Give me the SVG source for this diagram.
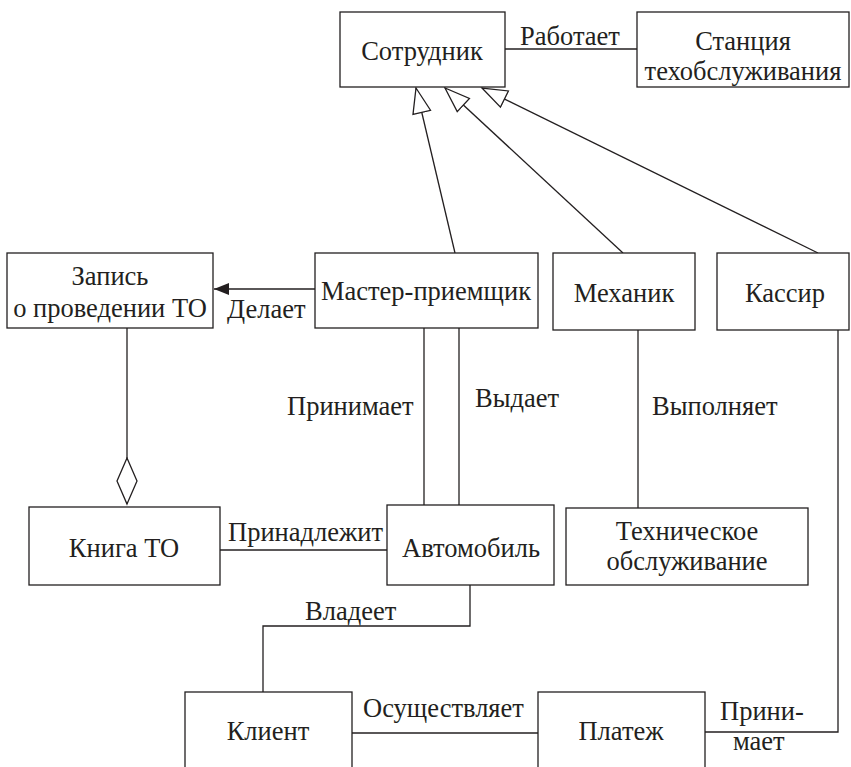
<svg xmlns="http://www.w3.org/2000/svg" width="851" height="767" viewBox="0 0 851 767">
<style>
rect{fill:#fff;stroke:#231f20;stroke-width:1.3}
.c{fill:none;stroke:#231f20;stroke-width:1.3}
text{font-family:'Liberation Serif','Times New Roman',serif;font-size:26.5px;fill:#231f20}
.m{text-anchor:middle}
</style>
<defs>
<marker id="gen" markerUnits="userSpaceOnUse" markerWidth="30" markerHeight="24" refX="26" refY="10" orient="auto" viewBox="0 0 30 20">
<path d="M26,10 L1,1 L1,19 Z" fill="#fff" stroke="#231f20" stroke-width="1.3"/>
</marker>
<marker id="arr" markerUnits="userSpaceOnUse" markerWidth="18" markerHeight="14" refX="16" refY="7" orient="auto" viewBox="0 0 18 14">
<path d="M16,7 L1,1 L1,13 Z" fill="#231f20"/>
</marker>
<marker id="agg" markerUnits="userSpaceOnUse" markerWidth="50" markerHeight="24" refX="47" refY="11" orient="auto" viewBox="0 0 50 22">
<path d="M47,11 L24,1 L1,11 L24,21 Z" fill="#fff" stroke="#231f20" stroke-width="1.3"/>
</marker>
</defs>
<g id="connectors">
<line class="c" x1="505" y1="49" x2="637" y2="49"/>
<line class="c" x1="455" y1="253" x2="416" y2="88" marker-end="url(#gen)"/>
<line class="c" x1="623" y1="253" x2="445" y2="88" marker-end="url(#gen)"/>
<line class="c" x1="818" y1="253" x2="482" y2="88" marker-end="url(#gen)"/>
<line class="c" x1="315" y1="289" x2="214" y2="289" marker-end="url(#arr)"/>
<line class="c" x1="127" y1="328" x2="127" y2="504" marker-end="url(#agg)"/>
<line class="c" x1="424" y1="328" x2="424" y2="505"/>
<line class="c" x1="459" y1="328" x2="459" y2="505"/>
<line class="c" x1="638" y1="330" x2="638" y2="508"/>
<line class="c" x1="220" y1="550" x2="387" y2="550"/>
<polyline class="c" points="470,585 470,626 263,626 263,692"/>
<line class="c" x1="352" y1="733" x2="538" y2="733"/>
<polyline class="c" points="838,330 838,732 705,732"/>
<text x="520" y="45">Работает</text>
<text x="227" y="318">Делает</text>
<text x="287" y="415">Принимает</text>
<text x="475" y="407">Выдает</text>
<text x="652" y="415">Выполняет</text>
<text x="228" y="541">Принадлежит</text>
<text x="305" y="620">Владеет</text>
<text x="363" y="717">Осуществляет</text>
<text x="720" y="720">Прини-</text>
<text x="733" y="750">мает</text>
</g>
<g id="sotrudnik"><rect x="340" y="12" width="165" height="75"/><text class="m" x="422" y="60">Сотрудник</text></g>
<g id="stantsiya"><rect x="637" y="12" width="212" height="75"/><text class="m" x="743" y="50">Станция</text><text class="m" x="743" y="80">техобслуживания</text></g>
<g id="zapis"><rect x="7" y="253" width="206" height="75"/><text class="m" x="110" y="285">Запись</text><text class="m" x="110" y="317">о проведении ТО</text></g>
<g id="master"><rect x="315" y="253" width="223" height="75"/><text class="m" x="426" y="300">Мастер-приемщик</text></g>
<g id="mekhanik"><rect x="553" y="253" width="142" height="77"/><text class="m" x="624" y="302">Механик</text></g>
<g id="kassir"><rect x="717" y="253" width="132" height="77"/><text class="m" x="785" y="302">Кассир</text></g>
<g id="kniga"><rect x="29" y="507" width="191" height="78"/><text class="m" x="124" y="557">Книга ТО</text></g>
<g id="avto"><rect x="387" y="505" width="167" height="80"/><text class="m" x="471" y="557">Автомобиль</text></g>
<g id="to"><rect x="566" y="508" width="242" height="77"/><text class="m" x="687" y="540">Техническое</text><text class="m" x="687" y="570">обслуживание</text></g>
<g id="klient"><rect x="185" y="692" width="167" height="90"/><text class="m" x="268" y="740">Клиент</text></g>
<g id="platezh"><rect x="538" y="692" width="167" height="90"/><text class="m" x="621" y="740">Платеж</text></g>
</svg>
